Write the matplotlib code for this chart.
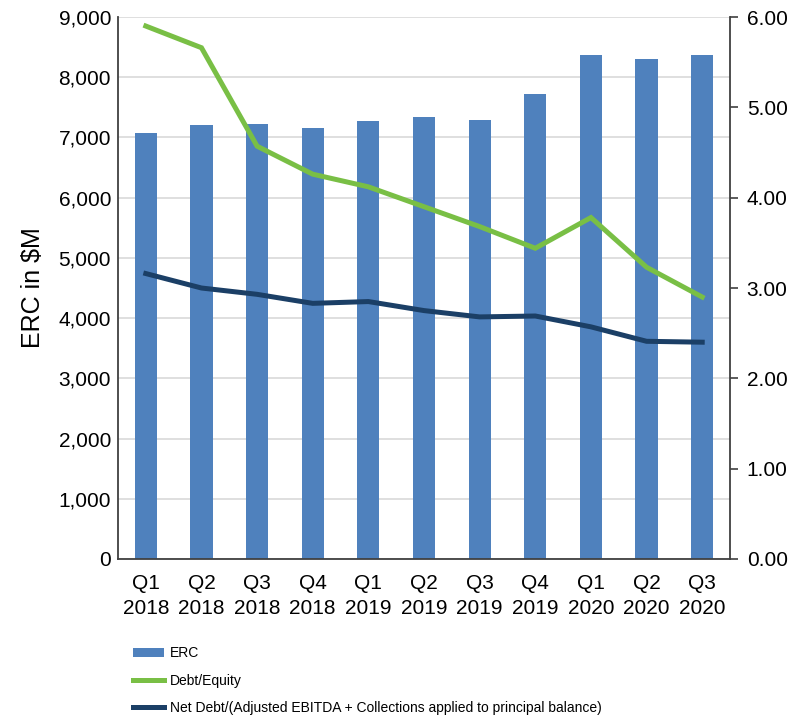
import matplotlib
matplotlib.use('Agg')
import matplotlib.pyplot as plt
from matplotlib.ticker import FuncFormatter, MultipleLocator
from matplotlib.patches import Patch
from matplotlib.lines import Line2D

plt.rcParams['font.family'] = ['Liberation Sans', 'DejaVu Sans']

# quarterly data
quarters = ['Q1\n2018', 'Q2\n2018', 'Q3\n2018', 'Q4\n2018',
            'Q1\n2019', 'Q2\n2019', 'Q3\n2019', 'Q4\n2019',
            'Q1\n2020', 'Q2\n2020', 'Q3\n2020']
erc = [7070, 7210, 7225, 7160, 7275, 7340, 7290, 7720, 8370, 8300, 8370]
debt_equity = [5.90, 5.66, 4.57, 4.26, 4.12, 3.90, 3.68, 3.44, 3.78, 3.23, 2.90]
net_debt_ratio = [3.16, 3.00, 2.93, 2.83, 2.85, 2.75, 2.68, 2.69, 2.57, 2.41, 2.40]

BLUE = '#4F81BD'
GREEN = '#79BF45'
NAVY = '#1B3F66'
GRID = '#D9D9D9'
AXIS = '#404040'

fig = plt.figure(figsize=(8.01, 7.15), dpi=100)
ax = fig.add_axes([0.1473, 0.2182, 0.7641, 0.758])
ax2 = ax.twinx()

x = list(range(len(quarters)))
ax.bar(x, erc, width=0.4, color=BLUE, zorder=2)
ax.set_xlim(-0.5, len(quarters) - 0.5)
ax.set_ylim(0, 9000)
ax.yaxis.set_major_locator(MultipleLocator(1000))
ax.yaxis.set_major_formatter(FuncFormatter(lambda v, p: f'{int(v):,}'))
ax.grid(axis='y', color=GRID, linewidth=1.2, zorder=0)
ax.set_axisbelow(True)
ax.set_xticks(x)
ax.set_xticklabels(quarters, fontsize=15, linespacing=1.4)
ax.tick_params(axis='x', length=0, pad=11)
ax.tick_params(axis='y', length=0, labelsize=15, pad=5)
ax.set_ylabel('ERC in $M', fontsize=18, labelpad=10)

ax2.plot(x, debt_equity, color=GREEN, linewidth=3.6, solid_joinstyle='miter', zorder=3)
ax2.plot(x, net_debt_ratio, color=NAVY, linewidth=3.6, zorder=3)
ax2.set_ylim(0, 6)
ax2.yaxis.set_major_locator(MultipleLocator(1))
ax2.yaxis.set_major_formatter(FuncFormatter(lambda v, p: f'{v:.2f}'))
ax2.tick_params(axis='y', direction='out', length=6, width=1.2, color=AXIS,
                labelsize=15, pad=6)

for a in (ax, ax2):
    a.spines['top'].set_visible(False)
    for s in ('left', 'right', 'bottom'):
        a.spines[s].set_color(AXIS)
        a.spines[s].set_linewidth(1.3)
ax.spines['right'].set_visible(False)
ax2.spines['left'].set_visible(False)
ax2.spines['bottom'].set_visible(False)

handles = [
    Patch(facecolor=BLUE, edgecolor='none'),
    Line2D([], [], color=GREEN, linewidth=3.6),
    Line2D([], [], color=NAVY, linewidth=3.6),
]
labels = ['ERC', 'Debt/Equity',
          'Net Debt/(Adjusted EBITDA + Collections applied to principal balance)']
fig.legend(handles, labels, loc='upper left', bbox_to_anchor=(0.166, 0.096),
           frameon=False, fontsize=10, handlelength=2.2, handleheight=0.6,
           handletextpad=0.45, labelspacing=0.95, borderpad=0, borderaxespad=0)

fig.savefig('out.png', dpi=100)
